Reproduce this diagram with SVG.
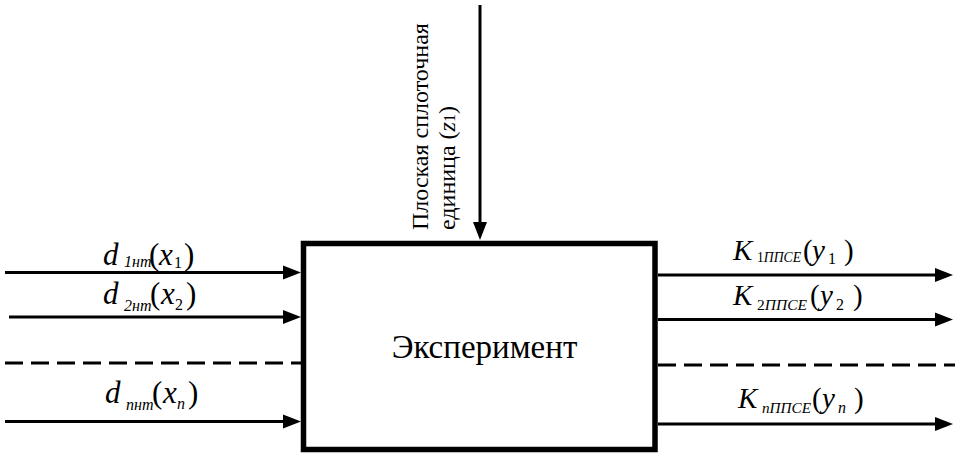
<svg xmlns="http://www.w3.org/2000/svg" width="960" height="457" viewBox="0 0 960 457" font-family="Liberation Serif">
<style>
.ln{stroke:#000;stroke-width:3;fill:none}
.dash{stroke-dasharray:18 8}
</style>
<defs>
<path id="ah" d="M-18,-7 L0,0 L-18,7 z" fill="#000"/>
</defs>
<rect width="960" height="457" fill="#fff"/>
<g id="connectors">
<line class="ln" x1="480" y1="5" x2="480" y2="224"/>
<use href="#ah" transform="translate(480,240) rotate(90)"/>
<line class="ln" x1="5" y1="272.5" x2="285" y2="272.5"/>
<use href="#ah" transform="translate(301,272.5)"/>
<line class="ln" x1="9" y1="317" x2="285" y2="317"/>
<use href="#ah" transform="translate(301,317)"/>
<line class="ln dash" x1="5" y1="363" x2="301" y2="363"/>
<line class="ln" x1="5" y1="421.5" x2="285" y2="421.5"/>
<use href="#ah" transform="translate(301,421.5)"/>
<line class="ln" x1="658" y1="275" x2="937" y2="275"/>
<use href="#ah" transform="translate(953,275)"/>
<line class="ln" x1="658" y1="319.5" x2="937" y2="319.5"/>
<use href="#ah" transform="translate(953,319.5)"/>
<line class="ln dash" x1="658" y1="365" x2="955" y2="365"/>
<line class="ln" x1="658" y1="424" x2="937" y2="424"/>
<use href="#ah" transform="translate(953,424)"/>
</g>
<g id="experiment">
<rect x="303.5" y="243.5" width="351.5" height="206" fill="#fff" stroke="#000" stroke-width="5.5"/>
<text x="484.5" y="358" font-size="33" text-anchor="middle">Эксперимент</text>
</g>
<g id="input-z" font-size="24" fill="#000">
<text transform="rotate(-90)"><tspan x="-230" y="428">Плоская сплоточная</tspan><tspan x="-230" y="455">единица (<tspan font-style="italic">z</tspan><tspan font-size="16">1</tspan>)</tspan></text>
</g>
<g fill="#000">
<g id="label-d1">
<text x="103" y="265" font-size="31" font-style="italic">d</text>
<text x="124" y="267" font-size="16" font-style="italic">1нт</text>
<text x="149" y="265" font-size="31">(</text>
<text x="159" y="265" font-size="31" font-style="italic">x</text>
<text x="174" y="268" font-size="16">1</text>
<text x="184" y="265" font-size="31">)</text>
</g>
<g id="label-d2">
<text x="103" y="304" font-size="31" font-style="italic">d</text>
<text x="124" y="311" font-size="16" font-style="italic">2нт</text>
<text x="150" y="304" font-size="31">(</text>
<text x="161" y="304" font-size="31" font-style="italic">x</text>
<text x="175" y="310" font-size="16">2</text>
<text x="186" y="304" font-size="31">)</text>
</g>
<g id="label-dn">
<text x="105" y="403" font-size="31" font-style="italic">d</text>
<text x="126" y="410" font-size="16" font-style="italic">пнт</text>
<text x="152" y="403" font-size="31">(</text>
<text x="163" y="403" font-size="31" font-style="italic">x</text>
<text x="177" y="409" font-size="16" font-style="italic">n</text>
<text x="188" y="403" font-size="31">)</text>
</g>
<g id="label-k1">
<text x="733" y="260" font-size="29" font-style="italic">K</text>
<text x="757" y="262" font-size="15" font-style="italic" textLength="44" lengthAdjust="spacingAndGlyphs"><tspan font-style="normal">1</tspan>ППСЕ</text>
<text x="803" y="260" font-size="29">(</text>
<text x="812" y="260" font-size="29" font-style="italic">y</text>
<text x="828" y="264" font-size="16">1</text>
<text x="844" y="260" font-size="29">)</text>
</g>
<g id="label-k2">
<text x="733" y="305" font-size="29" font-style="italic">K</text>
<text x="757" y="310" font-size="15" font-style="italic" textLength="50" lengthAdjust="spacingAndGlyphs"><tspan font-style="normal">2</tspan>ППСЕ</text>
<text x="810" y="305" font-size="29">(</text>
<text x="820" y="305" font-size="29" font-style="italic">y</text>
<text x="836" y="310" font-size="16">2</text>
<text x="853" y="305" font-size="29">)</text>
</g>
<g id="label-kn">
<text x="738" y="408" font-size="29" font-style="italic">K</text>
<text x="762" y="413" font-size="15" font-style="italic" textLength="49" lengthAdjust="spacingAndGlyphs">nППСЕ</text>
<text x="812" y="408" font-size="29">(</text>
<text x="822" y="408" font-size="29" font-style="italic">y</text>
<text x="838" y="413" font-size="16" font-style="italic">n</text>
<text x="854" y="408" font-size="29">)</text>
</g>
</g>
</svg>
